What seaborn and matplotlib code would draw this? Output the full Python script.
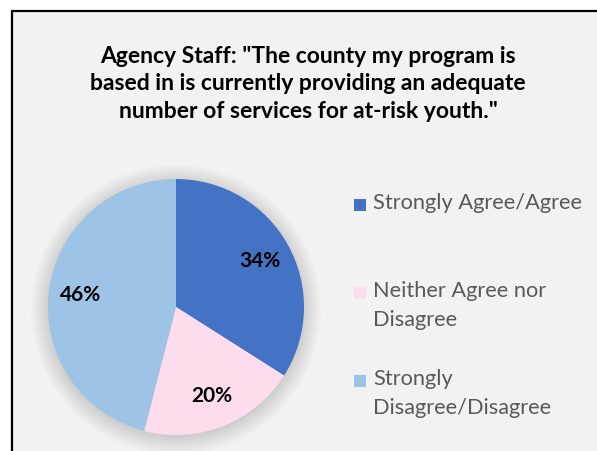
import matplotlib
matplotlib.use("Agg")
import matplotlib.pyplot as plt
import seaborn as sns
from matplotlib.patches import Rectangle, Circle

# data
categories = ["Strongly Agree/Agree", "Neither Agree nor\nDisagree", "Strongly\nDisagree/Disagree"]
shares = [34, 20, 46]
colors = ["#4472C4", "#FDDDED", "#9DC3E6"]
title = 'Agency Staff: "The county my program is\nbased in is currently providing an adequate\nnumber of services for at-risk youth."'

sns.set_style("white")
plt.rcParams["font.family"] = ["Lato", "DejaVu Sans"]

W, H = 597, 451
fig = plt.figure(figsize=(W / 100, H / 100), dpi=100)
fig.patch.set_facecolor("white")

# chart area frame (cropped at right and bottom)
fig.patches.append(Rectangle((12 / W, -0.1), 1.2, 1.1 - 11 / H, transform=fig.transFigure,
                             facecolor="#F2F2F2", edgecolor="black", linewidth=1.6, zorder=-5))

fig.text(308 / W, 1 - 84 / H, title, ha="center", va="center", fontsize=16.5,
         fontweight="bold", color="black", linespacing=1.38)

# pie axes: center (176, 307) px, radius 128 px
cx, cy, r = 176, 307, 128
ax = fig.add_axes([(cx - r) / W, (H - cy - r) / H, 2 * r / W, 2 * r / H])
ax.set_facecolor("none")
ax.axis("off")

# soft shadow
for i in range(12):
    ax.add_patch(Circle((0.0, -0.02), 1.0 + 0.012 * i, color="black", alpha=0.012,
                        lw=0, zorder=0, clip_on=False))

wedges, texts, autotexts = ax.pie(shares, colors=colors, startangle=90, counterclock=False,
                                  radius=1, autopct="%.0f%%", pctdistance=0.75,
                                  wedgeprops=dict(linewidth=0),
                                  textprops=dict(fontsize=15, fontweight="bold", color="black"))
for w in wedges:
    w.set_zorder(2)
for t in autotexts:
    t.set_zorder(3)
ax.set_xlim(-1, 1)
ax.set_ylim(-1, 1)

# legend
legend_y = [205, 293, 381]
for label, col, y in zip(categories, colors, legend_y):
    fig.patches.append(Rectangle((354 / W, 1 - (y + 6) / H), 12 / W, 12 / H,
                                 transform=fig.transFigure, facecolor=col, edgecolor="none"))
    fig.text(373 / W, 1 - (y - 12) / H, label, ha="left", va="top", fontsize=15.7,
             color="#595959", linespacing=1.55)

fig.savefig("out.png", dpi=100)
